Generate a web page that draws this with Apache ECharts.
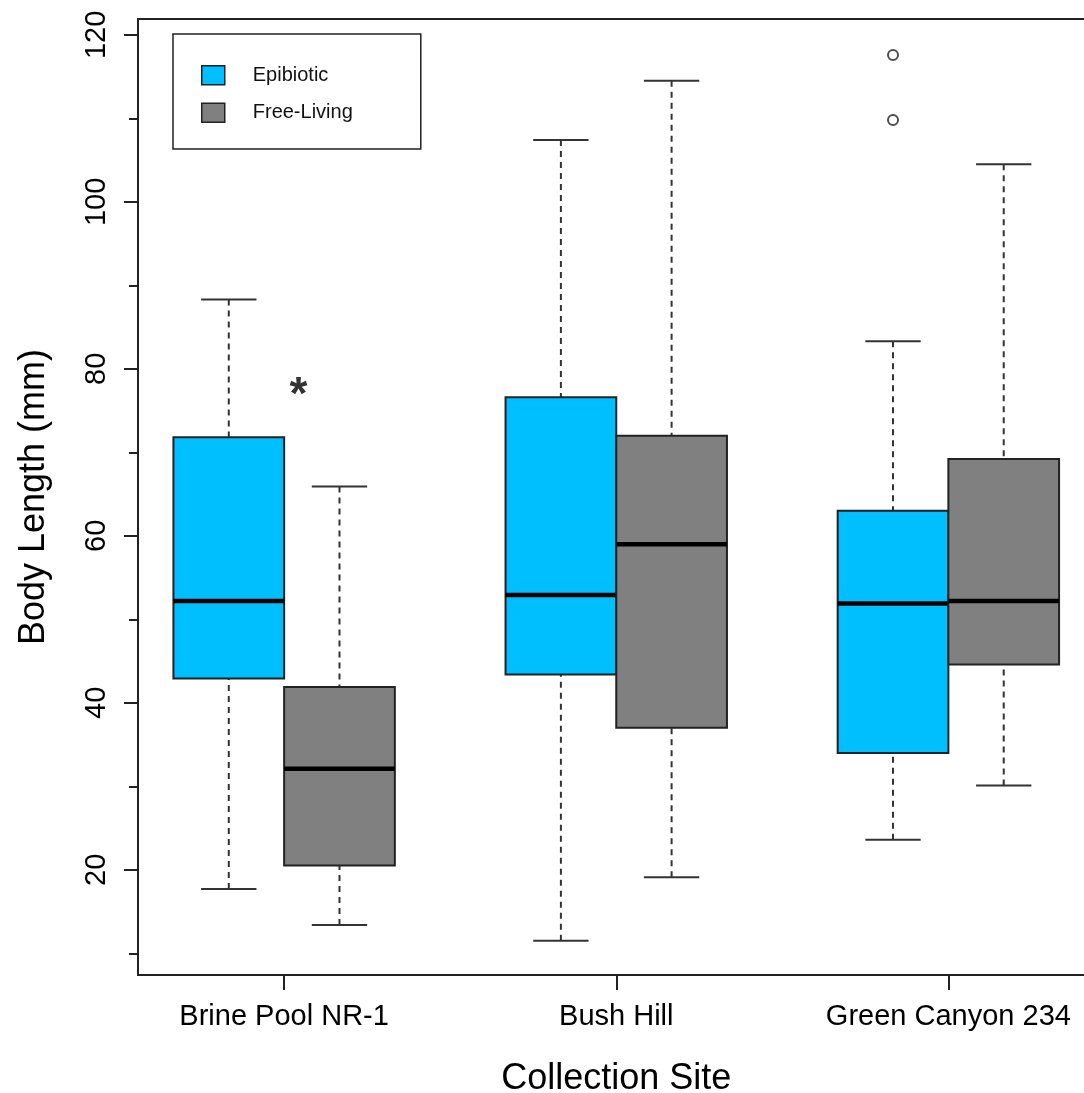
<!DOCTYPE html>
<html>
<head>
<meta charset="utf-8">
<title>Body Length by Collection Site</title>
<script src="https://cdn.jsdelivr.net/npm/echarts@6/dist/echarts.min.js"></script>
<style>
  html, body { margin: 0; padding: 0; background: #fff; }
  #chart { width: 1084px; height: 1093px; }
</style>
</head>
<body>
<div id="chart"></div>
<script>
// data: [lower whisker, Q1, median, Q3, upper whisker]
const sites = ['Brine Pool NR-1', 'Bush Hill', 'Green Canyon 234'];
const groups = ['Epibiotic', 'Free-Living'];
const epibioticStats = [
  [17.7, 42.9, 52.2, 71.8, 88.3],
  [11.5, 43.4, 52.9, 76.6, 107.4],
  [23.6, 34.0, 51.9, 63.0, 83.3]
];
const freeLivingStats = [
  [13.4, 20.5, 32.1, 41.9, 65.9],
  [19.1, 37.0, 59.0, 72.0, 114.5],
  [30.1, 44.6, 52.2, 69.2, 104.5]
];
const epibioticOutliers = [[], [], [117.6, 109.8]];
const freeLivingOutliers = [[], [], []];
// significance mark (x in box-slot units, y in mm)
const starNote = [[1.63, 78]];

const yLabelTicks = [20, 40, 60, 80, 100, 120];
const yMinorTicks = [10, 30, 50, 70, 90, 110];

const colors = ['#00BFFF', '#808080'];
const ink = '#222';
const font = 'Liberation Sans, Arial, sans-serif';

// R-style layout: boxes at slots 1,2 | 4,5 | 7,8
const slot = (siteIdx, groupIdx) => siteIdx * 3 + groupIdx + 1;
const siteCenters = sites.map((s, i) => slot(i, 0) + 0.5);

function boxData(stats, groupIdx) {
  return stats.map((s, i) => [slot(i, groupIdx)].concat(s));
}
function outlierData(list, groupIdx) {
  const out = [];
  list.forEach((vals, i) => vals.forEach(v => out.push([slot(i, groupIdx), v])));
  return out;
}

function renderBox(params, api) {
  const x = api.value(0);
  const lo = api.value(1), q1 = api.value(2), med = api.value(3), q3 = api.value(4), hi = api.value(5);
  const color = api.visual('color');
  const boxTL = api.coord([x - 0.5, q3]);
  const boxBR = api.coord([x + 0.5, q1]);
  const medL = api.coord([x - 0.5, med]);
  const medR = api.coord([x + 0.5, med]);
  const top = api.coord([x, hi]);
  const bot = api.coord([x, lo]);
  const capL = api.coord([x - 0.25, hi])[0];
  const capR = api.coord([x + 0.25, hi])[0];
  const dash = { stroke: '#333', lineWidth: 2, lineDash: [6, 5] };
  const cap = { stroke: '#333', lineWidth: 2 };
  return {
    type: 'group',
    children: [
      { type: 'line', shape: { x1: top[0], y1: top[1], x2: top[0], y2: boxTL[1] }, style: dash },
      { type: 'line', shape: { x1: bot[0], y1: bot[1], x2: bot[0], y2: boxBR[1] }, style: dash },
      { type: 'line', shape: { x1: capL, y1: top[1], x2: capR, y2: top[1] }, style: cap },
      { type: 'line', shape: { x1: capL, y1: bot[1], x2: capR, y2: bot[1] }, style: cap },
      {
        type: 'rect',
        shape: { x: boxTL[0], y: boxTL[1], width: boxBR[0] - boxTL[0], height: boxBR[1] - boxTL[1] },
        style: { fill: color, stroke: ink, lineWidth: 2 }
      },
      { type: 'line', shape: { x1: medL[0], y1: medL[1], x2: medR[0], y2: medR[1] }, style: { stroke: '#000', lineWidth: 4.5 } }
    ]
  };
}

const chart = echarts.init(document.getElementById('chart'));

const option = {
  backgroundColor: '#fff',
  animation: false,
  textStyle: { fontFamily: font, color: '#000' },
  grid: {
    left: 138, top: 19, width: 956.5, height: 956,
    outerBoundsMode: 'none',
    containLabel: false,
    show: true, borderColor: ink, borderWidth: 2, backgroundColor: 'transparent'
  },
  legend: {
    orient: 'vertical',
    left: 173, top: 34,
    padding: [31, 68, 26, 28],
    itemGap: 17,
    itemWidth: 23, itemHeight: 19,
    borderColor: ink, borderWidth: 1.5, borderRadius: 0,
    selectedMode: false,
    textStyle: { fontFamily: font, fontSize: 20, color: '#111', padding: [0, 0, 0, 23] },
    data: groups.map((g, i) => ({
      name: g, icon: 'rect',
      itemStyle: { color: colors[i], borderColor: ink, borderWidth: 1.5 }
    }))
  },
  xAxis: {
    type: 'value',
    min: 0.18, max: 8.82,
    name: 'Collection Site',
    nameLocation: 'middle',
    nameGap: 86,
    nameTextStyle: { fontFamily: font, fontSize: 36, color: '#000' },
    axisLine: { show: false },
    splitLine: { show: false },
    axisTick: { show: true, customValues: siteCenters, length: 15, lineStyle: { color: ink, width: 2 } },
    axisLabel: {
      customValues: siteCenters,
      margin: 27,
      fontSize: 29,
      color: '#000',
      formatter: v => sites[Math.round((v - 1.5) / 3)]
    }
  },
  yAxis: [
    {
      type: 'value',
      position: 'left',
      min: 7.4, max: 121.9,
      name: 'Body Length (mm)',
      nameLocation: 'middle',
      nameGap: 86,
      nameTextStyle: { fontFamily: font, fontSize: 36, color: '#000' },
      axisLine: { show: false },
      splitLine: { show: false },
      axisTick: { show: true, customValues: yLabelTicks, length: 14, lineStyle: { color: ink, width: 2 } },
      axisLabel: { customValues: yLabelTicks, rotate: 90, margin: 27, fontSize: 29, color: '#000' }
    },
    {
      type: 'value',
      position: 'left',
      min: 7.4, max: 121.9,
      axisLine: { show: false },
      splitLine: { show: false },
      axisTick: { show: true, customValues: yMinorTicks, length: 9, lineStyle: { color: ink, width: 2 } },
      axisLabel: { show: false }
    }
  ],
  series: [
    {
      name: groups[0], type: 'custom', renderItem: renderBox,
      itemStyle: { color: colors[0], borderColor: ink },
      encode: { x: 0, y: [1, 2, 3, 4, 5] },
      data: boxData(epibioticStats, 0)
    },
    {
      name: groups[1], type: 'custom', renderItem: renderBox,
      itemStyle: { color: colors[1], borderColor: ink },
      encode: { x: 0, y: [1, 2, 3, 4, 5] },
      data: boxData(freeLivingStats, 1)
    },
    {
      name: 'outliers', type: 'scatter',
      symbol: 'emptyCircle', symbolSize: 10,
      itemStyle: { color: ink, borderWidth: 1.6 },
      data: outlierData(epibioticOutliers, 0).concat(outlierData(freeLivingOutliers, 1))
    },
    {
      name: 'note', type: 'scatter',
      symbolSize: 0,
      label: {
        show: true, position: 'inside', formatter: '*',
        fontFamily: font, fontSize: 46, fontWeight: 'bold', color: '#000', offset: [0, 11]
      },
      data: starNote
    }
  ]
};

chart.setOption(option);
</script>
</body>
</html>
